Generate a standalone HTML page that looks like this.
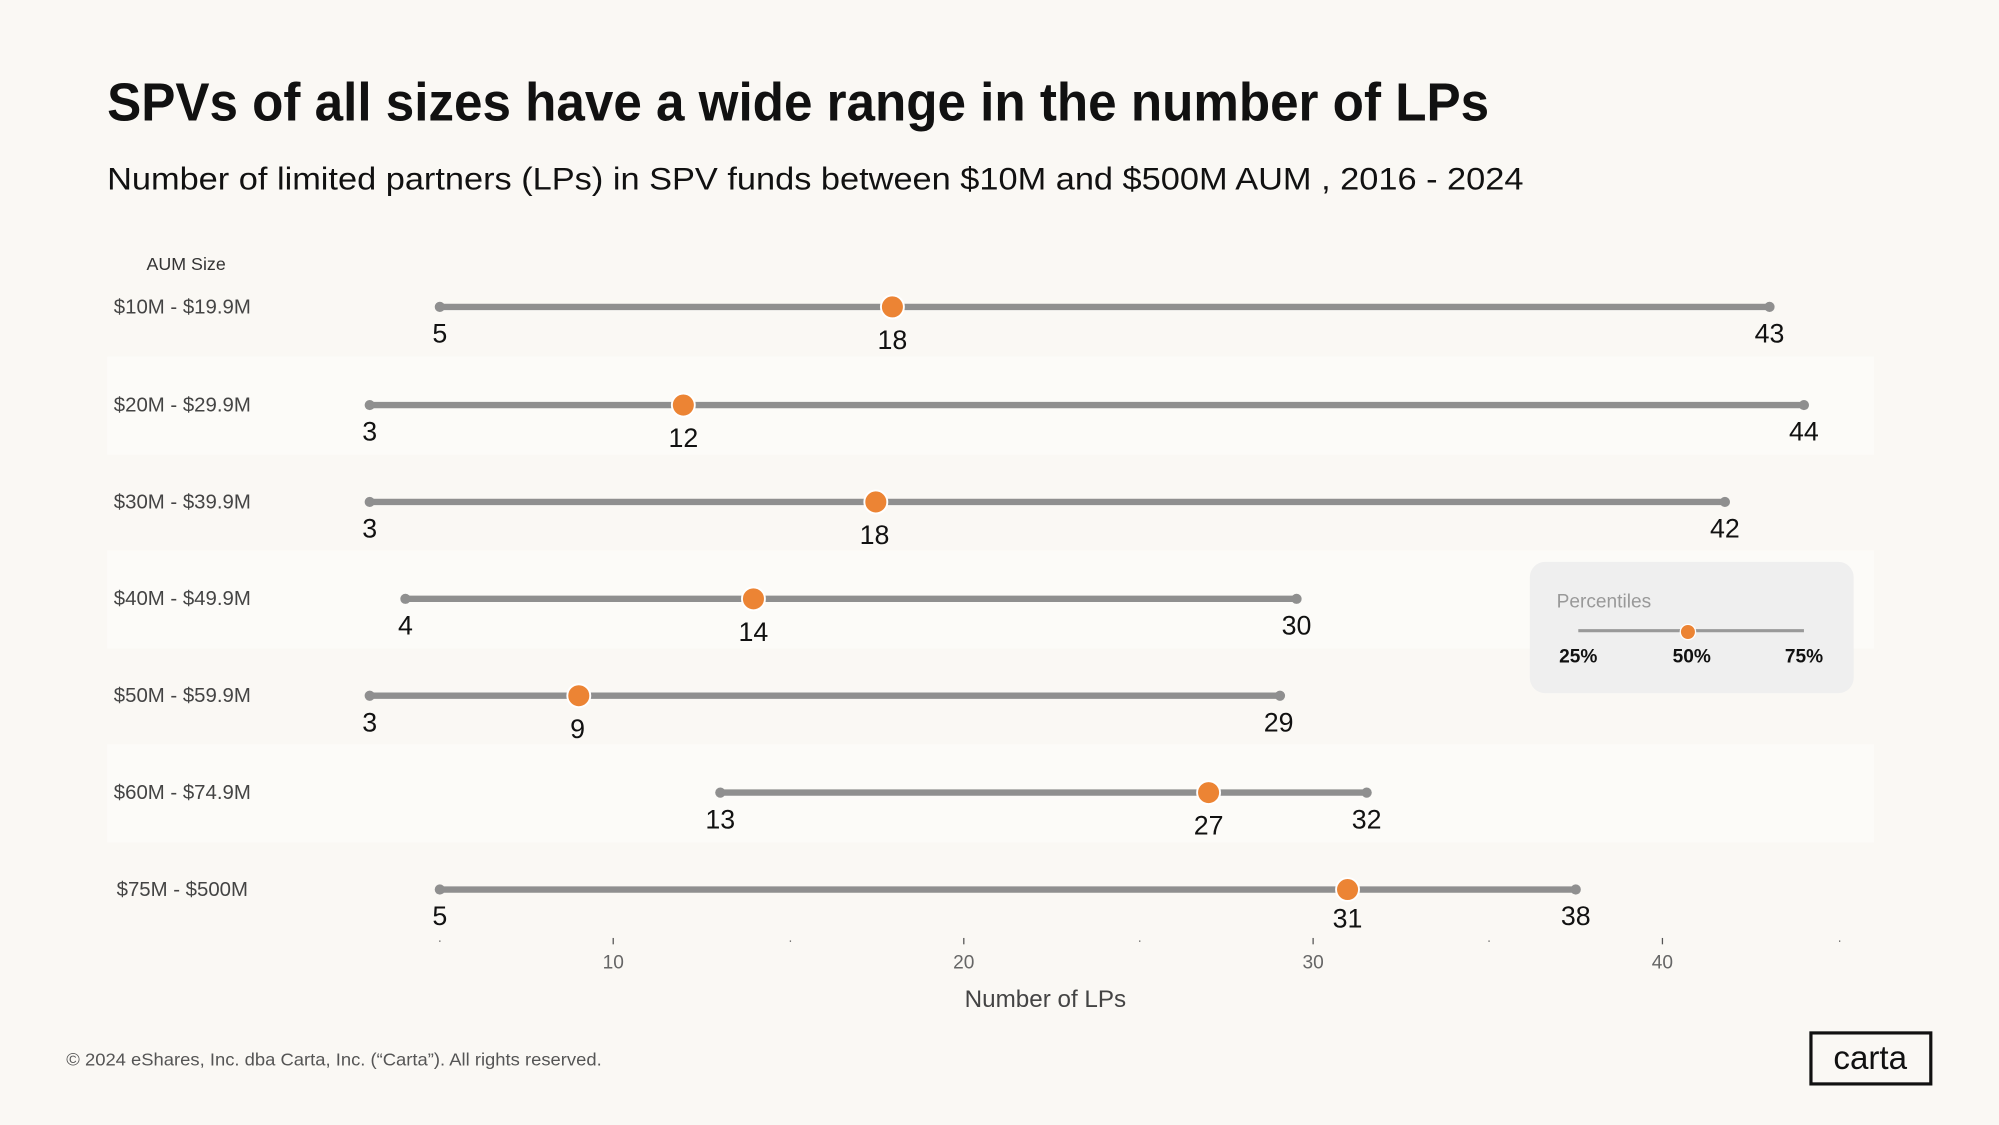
<!DOCTYPE html>
<html><head><meta charset="utf-8"><style>
html,body{margin:0;padding:0;background:#faf8f4;}
svg{display:block;font-family:"Liberation Sans",sans-serif;}
</style></head><body>
<svg width="1999" height="1125" viewBox="0 0 1568 881" xmlns="http://www.w3.org/2000/svg">
<rect width="1568" height="881" fill="#faf8f4"/>
<rect x="84" y="279" width="1386" height="77" fill="#fcfbf8"/>
<rect x="84" y="431" width="1386" height="77" fill="#fcfbf8"/>
<rect x="84" y="583" width="1386" height="77" fill="#fcfbf8"/>
<text x="84" y="94" font-size="42" font-weight="bold" fill="#111" textLength="1084" lengthAdjust="spacingAndGlyphs">SPVs of all sizes have a wide range in the number of LPs</text>
<text x="84" y="148" font-size="25" fill="#111" textLength="1111" lengthAdjust="spacingAndGlyphs">Number of limited partners (LPs) in SPV funds between $10M and $500M AUM , 2016 - 2024</text>
<text x="146" y="211" font-size="14" fill="#333" text-anchor="middle">AUM Size</text>
<g font-size="16" fill="#444" text-anchor="middle">
<text x="143" y="245">$10M - $19.9M</text>
<text x="143" y="322">$20M - $29.9M</text>
<text x="143" y="398">$30M - $39.9M</text>
<text x="143" y="474">$40M - $49.9M</text>
<text x="143" y="550">$50M - $59.9M</text>
<text x="143" y="626">$60M - $74.9M</text>
<text x="143" y="702">$75M - $500M</text>
</g>
<g font-size="21" fill="#111" text-anchor="middle">
<g transform="translate(0,240)"><line x1="345" x2="1388" stroke="#8f8f8f" stroke-width="5"/><circle cx="345" r="4" fill="#8f8f8f"/><circle cx="1388" r="4" fill="#8f8f8f"/><circle cx="700" r="9" fill="#ec8434" stroke="#fff" stroke-width="1.5"/><text x="345" y="28">5</text><text x="700" y="33">18</text><text x="1388" y="28">43</text></g>
<g transform="translate(0,317)"><line x1="290" x2="1415" stroke="#8f8f8f" stroke-width="5"/><circle cx="290" r="4" fill="#8f8f8f"/><circle cx="1415" r="4" fill="#8f8f8f"/><circle cx="536" r="9" fill="#ec8434" stroke="#fff" stroke-width="1.5"/><text x="290" y="28">3</text><text x="536" y="33">12</text><text x="1415" y="28">44</text></g>
<g transform="translate(0,393)"><line x1="290" x2="1353" stroke="#8f8f8f" stroke-width="5"/><circle cx="290" r="4" fill="#8f8f8f"/><circle cx="1353" r="4" fill="#8f8f8f"/><circle cx="687" r="9" fill="#ec8434" stroke="#fff" stroke-width="1.5"/><text x="290" y="28">3</text><text x="686" y="33">18</text><text x="1353" y="28">42</text></g>
<g transform="translate(0,469)"><line x1="318" x2="1017" stroke="#8f8f8f" stroke-width="5"/><circle cx="318" r="4" fill="#8f8f8f"/><circle cx="1017" r="4" fill="#8f8f8f"/><circle cx="591" r="9" fill="#ec8434" stroke="#fff" stroke-width="1.5"/><text x="318" y="28">4</text><text x="591" y="33">14</text><text x="1017" y="28">30</text></g>
<g transform="translate(0,545)"><line x1="290" x2="1004" stroke="#8f8f8f" stroke-width="5"/><circle cx="290" r="4" fill="#8f8f8f"/><circle cx="1004" r="4" fill="#8f8f8f"/><circle cx="454" r="9" fill="#ec8434" stroke="#fff" stroke-width="1.5"/><text x="290" y="28">3</text><text x="453" y="33">9</text><text x="1003" y="28">29</text></g>
<g transform="translate(0,621)"><line x1="565" x2="1072" stroke="#8f8f8f" stroke-width="5"/><circle cx="565" r="4" fill="#8f8f8f"/><circle cx="1072" r="4" fill="#8f8f8f"/><circle cx="948" r="9" fill="#ec8434" stroke="#fff" stroke-width="1.5"/><text x="565" y="28">13</text><text x="948" y="33">27</text><text x="1072" y="28">32</text></g>
<g transform="translate(0,697)"><line x1="345" x2="1236" stroke="#8f8f8f" stroke-width="5"/><circle cx="345" r="4" fill="#8f8f8f"/><circle cx="1236" r="4" fill="#8f8f8f"/><circle cx="1057" r="9" fill="#ec8434" stroke="#fff" stroke-width="1.5"/><text x="345" y="28">5</text><text x="1057" y="30">31</text><text x="1236" y="28">38</text></g>
</g>
<rect x="1200" y="440" width="254" height="103" rx="12" fill="#efefef"/>
<text x="1221" y="476" font-size="15" fill="#999">Percentiles</text>
<line x1="1238" x2="1415" y1="494" y2="494" stroke="#999" stroke-width="2.5"/>
<circle cx="1324" cy="495" r="6" fill="#ec8434" stroke="#fff" stroke-width="1"/>
<g font-size="15" font-weight="bold" fill="#111" text-anchor="middle">
<text x="1238" y="519">25%</text><text x="1327" y="519">50%</text><text x="1415" y="519">75%</text>
</g>
<g stroke="#555" stroke-width="1">
<line x1="345" x2="345" y1="737" y2="738"/><line x1="481" x2="481" y1="735" y2="740"/><line x1="620" x2="620" y1="737" y2="738"/><line x1="756" x2="756" y1="735" y2="740"/><line x1="894" x2="894" y1="737" y2="738"/><line x1="1030" x2="1030" y1="735" y2="740"/><line x1="1168" x2="1168" y1="737" y2="738"/><line x1="1304" x2="1304" y1="735" y2="740"/><line x1="1443" x2="1443" y1="737" y2="738"/>
</g>
<g font-size="15" fill="#666" text-anchor="middle">
<text x="481" y="759">10</text><text x="756" y="759">20</text><text x="1030" y="759">30</text><text x="1304" y="759">40</text>
</g>
<text x="820" y="789" font-size="19" fill="#444" text-anchor="middle">Number of LPs</text>
<text x="52" y="835" font-size="14" fill="#555" textLength="420" lengthAdjust="spacingAndGlyphs">© 2024 eShares, Inc. dba Carta, Inc. (“Carta”). All rights reserved.</text>
<rect x="1420.5" y="809.5" width="94" height="40" fill="none" stroke="#111" stroke-width="2.5"/>
<text x="1467" y="838" font-size="26" fill="#111" text-anchor="middle">carta</text>
</svg>
</body></html>
